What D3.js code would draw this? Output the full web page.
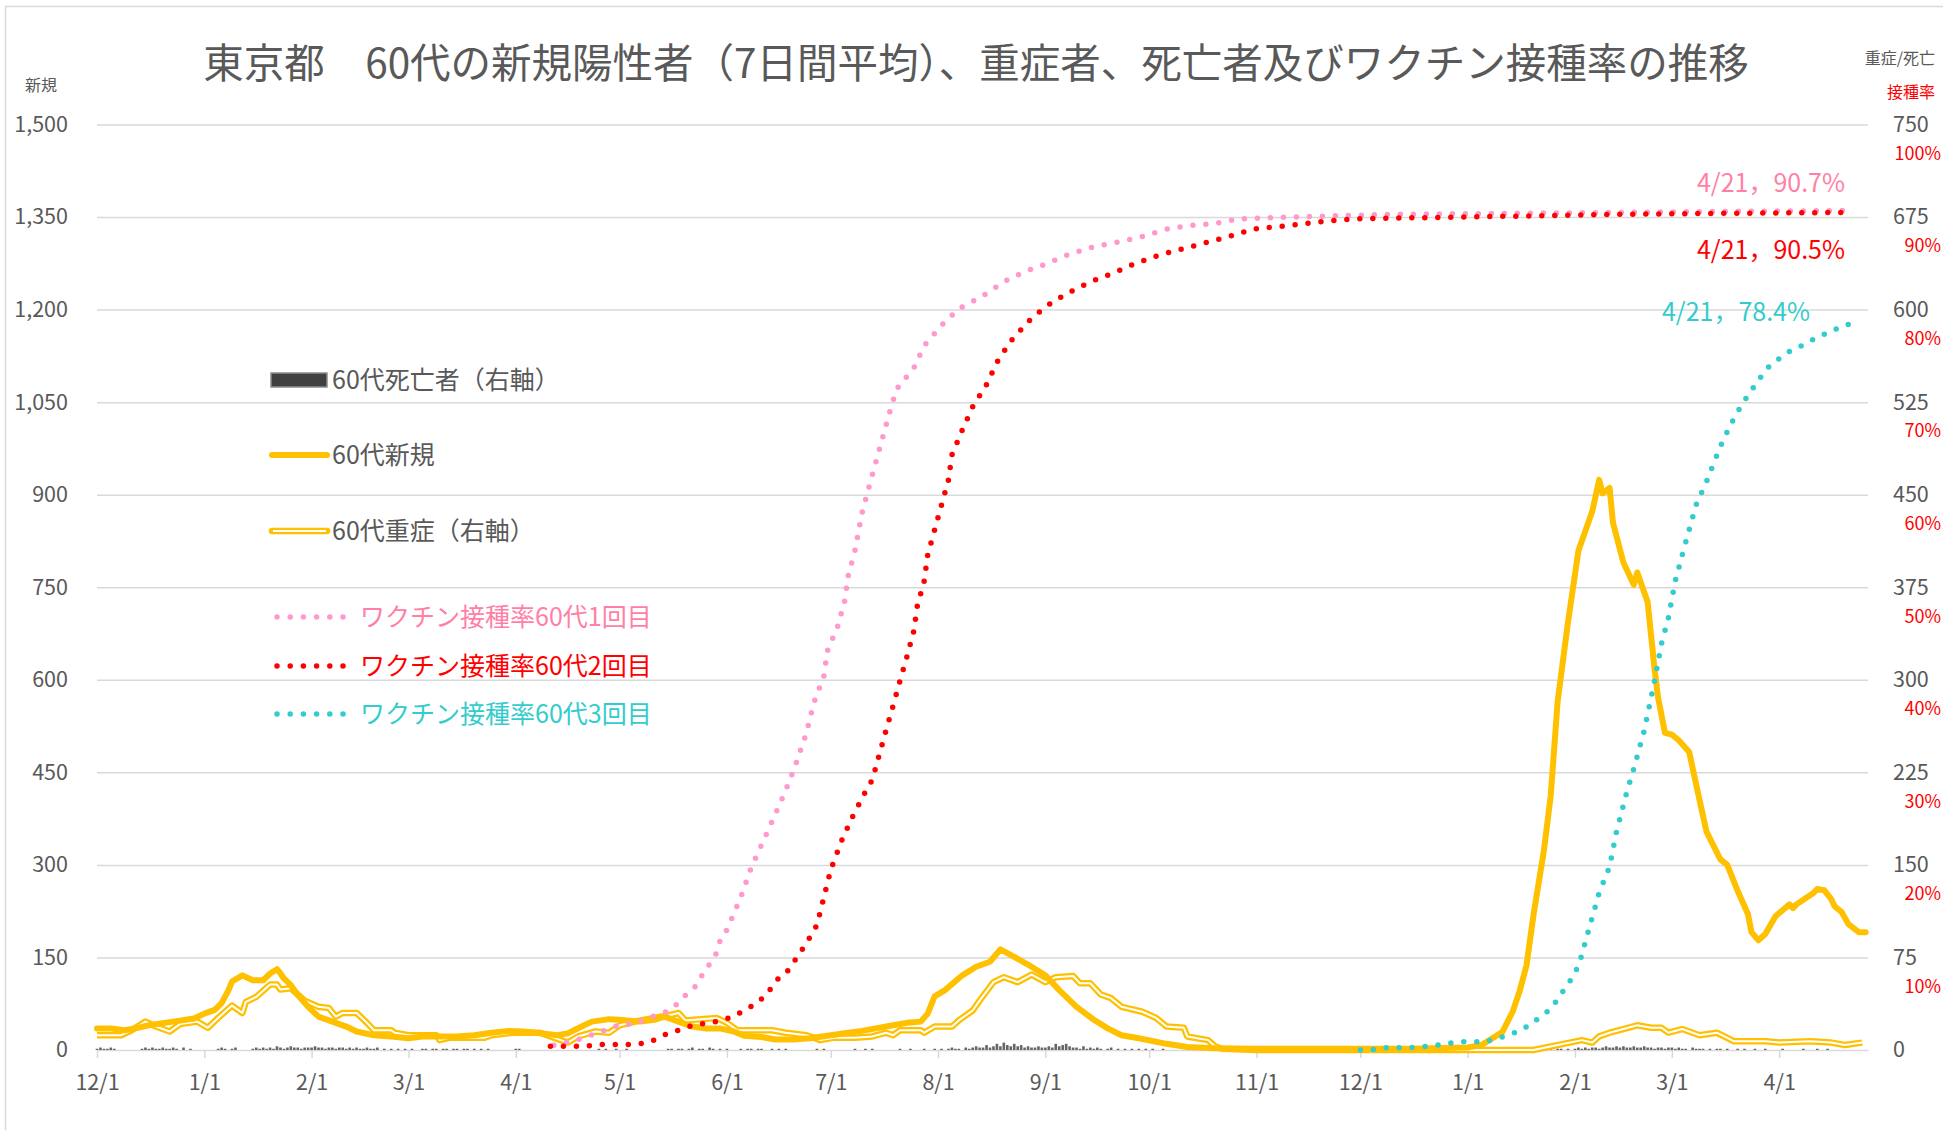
<!DOCTYPE html>
<html lang="ja">
<head>
<meta charset="utf-8">
<title>東京都 60代の新規陽性者・重症者・死亡者・ワクチン接種率</title>
<script src="https://cdn.jsdelivr.net/npm/d3@7"></script>
<style>
  body { margin: 0; background: #fff; }
  svg { display: block; font-family: "Noto Sans CJK JP", "Noto Sans", sans-serif; }
</style>
</head>
<body>
<svg id="chart" width="1943" height="1130"></svg>
<script>
// 60代新規（7日間平均, 左軸）
const newCases = [
  ["2020-12-01",35],["2020-12-05",35],["2020-12-09",32],["2020-12-12",35],["2020-12-16",40],["2020-12-23",46],
  ["2020-12-29",51],["2021-01-01",59],["2021-01-04",65],["2021-01-06",76],["2021-01-08",97],["2021-01-09",111],
  ["2021-01-12",121],["2021-01-15",113],["2021-01-18",113],["2021-01-20",124],["2021-01-22",131],["2021-01-23",124],
  ["2021-01-24",116],["2021-01-26",105],["2021-01-28",89],["2021-01-31",70],["2021-02-03",54],["2021-02-07",46],
  ["2021-02-11",38],["2021-02-14",30],["2021-02-19",24],["2021-02-24",22],["2021-03-01",19],["2021-03-05",22],
  ["2021-03-10",22],["2021-03-15",22],["2021-03-20",24],["2021-03-25",28],["2021-03-30",31],["2021-04-03",30],
  ["2021-04-08",27],["2021-04-13",24],["2021-04-16",27],["2021-04-20",38],["2021-04-23",46],["2021-04-28",50],
  ["2021-05-01",49],["2021-05-07",46],["2021-05-11",49],["2021-05-14",54],["2021-05-18",46],["2021-05-22",38],
  ["2021-05-26",35],["2021-05-30",35],["2021-06-03",30],["2021-06-06",23],["2021-06-11",21],["2021-06-15",17],
  ["2021-06-20",17],["2021-06-25",19],["2021-06-30",23],["2021-07-05",27],["2021-07-10",31],["2021-07-14",35],
  ["2021-07-19",40],["2021-07-23",44],["2021-07-27",46],["2021-07-29",59],["2021-07-31",87],["2021-08-03",97],
  ["2021-08-08",121],["2021-08-12",135],["2021-08-16",143],["2021-08-19",163],["2021-08-23",151],["2021-08-28",135],
  ["2021-09-01",121],["2021-09-05",97],["2021-09-10",70],["2021-09-15",49],["2021-09-19",35],["2021-09-23",24],
  ["2021-09-28",19],["2021-10-06",10],["2021-10-12",5],["2021-10-20",3],["2021-11-01",2],["2021-11-15",2],
  ["2021-12-01",2],["2021-12-15",2],["2022-01-01",4],["2022-01-05",8],["2022-01-11",29],["2022-01-14",62],
  ["2022-01-16",95],["2022-01-18",137],["2022-01-20",218],["2022-01-23",322],["2022-01-25",412],["2022-01-27",565],
  ["2022-01-30",694],["2022-02-02",809],["2022-02-06",873],["2022-02-08",924],["2022-02-09",902],["2022-02-11",911],
  ["2022-02-12",854],["2022-02-15",790],["2022-02-18",754],["2022-02-19",774],["2022-02-22",726],["2022-02-24",617],
  ["2022-02-25",572],["2022-02-27",514],["2022-03-01",511],["2022-03-03",502],["2022-03-06",483],["2022-03-09",405],
  ["2022-03-11",354],["2022-03-15",309],["2022-03-17",300],["2022-03-20",258],["2022-03-23",220],["2022-03-24",191],
  ["2022-03-26",178],["2022-03-28",188],["2022-03-31",217],["2022-04-04",236],["2022-04-05",230],["2022-04-06",236],
  ["2022-04-11",255],["2022-04-12",261],["2022-04-14",259],["2022-04-16",245],["2022-04-17",233],["2022-04-19",224],
  ["2022-04-21",204],["2022-04-24",191],["2022-04-26",191]
];

// 60代重症（右軸）
const severe = [
  ["2020-12-01",12],["2020-12-08",12],["2020-12-11",16],["2020-12-15",23],["2020-12-18",19],["2020-12-22",15],
  ["2020-12-25",21],["2020-12-30",23],["2021-01-02",18],["2021-01-05",26],["2021-01-09",36],["2021-01-12",30],
  ["2021-01-13",39],["2021-01-16",43],["2021-01-20",53],["2021-01-22",53],["2021-01-23",49],["2021-01-26",50],
  ["2021-01-30",40],["2021-02-03",35],["2021-02-06",34],["2021-02-08",27],["2021-02-10",30],["2021-02-14",30],
  ["2021-02-17",22],["2021-02-19",16],["2021-02-24",16],["2021-02-25",14],["2021-03-01",12],["2021-03-09",12],
  ["2021-03-10",8],["2021-03-13",10],["2021-03-23",10],["2021-03-25",12],["2021-03-31",14],["2021-04-08",14],
  ["2021-04-13",9],["2021-04-16",6],["2021-04-19",11],["2021-04-24",15],["2021-04-28",14],["2021-05-01",20],
  ["2021-05-07",24],["2021-05-15",28],["2021-05-18",30],["2021-05-20",24],["2021-05-29",26],["2021-06-01",22],
  ["2021-06-04",16],["2021-06-14",16],["2021-06-18",14],["2021-06-24",12],["2021-06-28",8],["2021-07-02",10],
  ["2021-07-08",10],["2021-07-13",11],["2021-07-17",14],["2021-07-19",12],["2021-07-21",16],["2021-07-27",16],
  ["2021-07-28",14],["2021-07-31",19],["2021-08-05",19],["2021-08-07",24],["2021-08-11",32],["2021-08-13",40],
  ["2021-08-17",55],["2021-08-20",59],["2021-08-24",55],["2021-08-28",61],["2021-09-01",55],["2021-09-04",59],
  ["2021-09-09",60],["2021-09-11",54],["2021-09-14",54],["2021-09-17",45],["2021-09-20",42],["2021-09-23",35],
  ["2021-09-29",31],["2021-10-03",26],["2021-10-06",19],["2021-10-11",18],["2021-10-12",11],["2021-10-18",8],
  ["2021-10-20",3],["2021-10-22",1],["2021-11-01",0],["2022-01-20",0],["2022-01-27",4],["2022-02-03",8],
  ["2022-02-06",6],["2022-02-08",11],["2022-02-11",14],["2022-02-15",17],["2022-02-19",20],["2022-02-23",18],
  ["2022-02-26",18],["2022-02-28",14],["2022-03-04",17],["2022-03-09",12],["2022-03-14",14],["2022-03-19",7],
  ["2022-03-28",7],["2022-04-01",6],["2022-04-10",7],["2022-04-16",6],["2022-04-20",4],["2022-04-25",6]
];

// 60代死亡者（右軸）
const deaths = [
  ["2020-12-01",1],["2020-12-02",2],["2020-12-03",1],["2020-12-04",1],["2020-12-05",2],["2020-12-06",1],
  ["2020-12-14",1],["2020-12-15",2],["2020-12-16",1],["2020-12-17",2],["2020-12-18",1],["2020-12-19",1],
  ["2020-12-20",2],["2020-12-21",1],["2020-12-22",1],["2020-12-23",2],["2020-12-24",1],["2020-12-26",2],
  ["2020-12-28",1],["2021-01-05",1],["2021-01-06",2],["2021-01-07",1],["2021-01-09",1],["2021-01-10",2],
  ["2021-01-15",1],["2021-01-16",2],["2021-01-17",1],["2021-01-18",2],["2021-01-19",1],["2021-01-20",2],
  ["2021-01-21",1],["2021-01-22",3],["2021-01-23",2],["2021-01-24",1],["2021-01-25",2],["2021-01-26",3],
  ["2021-01-27",2],["2021-01-28",2],["2021-01-29",1],["2021-01-30",2],["2021-01-31",2],["2021-02-01",2],
  ["2021-02-02",3],["2021-02-03",2],["2021-02-04",2],["2021-02-05",1],["2021-02-06",2],["2021-02-07",2],
  ["2021-02-08",1],["2021-02-09",2],["2021-02-10",2],["2021-02-11",1],["2021-02-12",2],["2021-02-13",1],
  ["2021-02-14",2],["2021-02-15",1],["2021-02-16",1],["2021-02-17",2],["2021-02-18",1],["2021-02-19",1],
  ["2021-02-20",2],["2021-02-22",1],["2021-02-24",1],["2021-02-26",1],["2021-02-28",1],["2021-03-02",1],
  ["2021-03-05",1],["2021-03-06",1],["2021-03-08",1],["2021-03-09",1],["2021-03-11",1],["2021-03-12",1],
  ["2021-03-14",1],["2021-03-15",1],["2021-03-17",1],["2021-03-18",1],["2021-03-20",1],["2021-03-22",1],
  ["2021-03-24",1],["2021-04-01",1],["2021-04-02",1],["2021-04-25",1],["2021-04-27",1],["2021-04-30",1],
  ["2021-05-03",1],["2021-05-15",1],["2021-05-16",1],["2021-05-18",1],["2021-05-19",1],["2021-05-21",1],
  ["2021-05-22",2],["2021-05-24",1],["2021-05-25",1],["2021-05-27",2],["2021-05-28",1],["2021-05-30",1],
  ["2021-06-01",1],["2021-06-05",1],["2021-06-07",1],["2021-06-08",1],["2021-06-10",1],["2021-06-11",1],
  ["2021-06-14",1],["2021-06-16",1],["2021-06-18",1],["2021-06-27",1],["2021-06-29",1],["2021-07-08",1],
  ["2021-07-11",1],["2021-07-13",1],["2021-07-21",1],["2021-07-24",1],["2021-07-28",1],["2021-07-31",1],
  ["2021-08-02",1],["2021-08-04",1],["2021-08-05",2],["2021-08-06",1],["2021-08-07",1],["2021-08-09",2],
  ["2021-08-10",1],["2021-08-11",2],["2021-08-12",3],["2021-08-13",2],["2021-08-14",2],["2021-08-15",4],
  ["2021-08-16",2],["2021-08-17",3],["2021-08-18",5],["2021-08-19",3],["2021-08-20",6],["2021-08-21",4],
  ["2021-08-22",3],["2021-08-23",5],["2021-08-24",3],["2021-08-25",4],["2021-08-26",2],["2021-08-27",3],
  ["2021-08-28",2],["2021-08-29",2],["2021-08-30",3],["2021-08-31",2],["2021-09-01",2],["2021-09-02",3],
  ["2021-09-03",2],["2021-09-04",5],["2021-09-05",3],["2021-09-06",4],["2021-09-07",5],["2021-09-08",3],
  ["2021-09-09",2],["2021-09-10",2],["2021-09-11",1],["2021-09-12",3],["2021-09-13",1],["2021-09-14",2],
  ["2021-09-15",1],["2021-09-16",2],["2021-09-17",1],["2021-09-19",1],["2021-09-20",2],["2021-09-22",1],
  ["2021-09-24",1],["2021-09-26",1],["2021-09-28",1],["2021-09-30",1],["2021-10-02",1],["2021-10-05",1],
  ["2022-01-25",1],["2022-01-27",1],["2022-01-28",1],["2022-01-30",1],["2022-02-01",1],["2022-02-02",2],
  ["2022-02-03",1],["2022-02-04",2],["2022-02-05",1],["2022-02-06",2],["2022-02-07",2],["2022-02-08",1],
  ["2022-02-09",2],["2022-02-10",3],["2022-02-11",2],["2022-02-12",2],["2022-02-13",3],["2022-02-14",2],
  ["2022-02-15",3],["2022-02-16",2],["2022-02-17",2],["2022-02-18",3],["2022-02-19",2],["2022-02-20",2],
  ["2022-02-21",3],["2022-02-22",2],["2022-02-23",2],["2022-02-24",1],["2022-02-25",2],["2022-02-26",2],
  ["2022-02-27",1],["2022-02-28",2],["2022-03-01",2],["2022-03-02",1],["2022-03-03",2],["2022-03-04",1],
  ["2022-03-05",1],["2022-03-07",2],["2022-03-08",1],["2022-03-09",1],["2022-03-10",1],["2022-03-12",1],
  ["2022-03-14",1],["2022-03-15",1],["2022-03-17",1],["2022-03-20",1],["2022-03-22",1],["2022-03-25",1],
  ["2022-03-28",1],["2022-04-02",1],["2022-04-08",1],["2022-04-12",1],["2022-04-15",1]
];

// ワクチン接種率（%）
const vacc1 = [
  ["2021-04-12",0.5],["2021-04-18",1.0],["2021-04-21",1.4],["2021-04-25",1.9],["2021-04-28",2.3],["2021-05-01",2.7],
  ["2021-05-04",2.8],["2021-05-08",3.2],["2021-05-11",3.7],["2021-05-15",4.2],["2021-05-18",5.1],["2021-05-20",5.9],
  ["2021-05-23",6.9],["2021-05-25",8.2],["2021-05-27",9.3],["2021-05-29",10.5],["2021-05-30",11.8],["2021-06-01",13.0],
  ["2021-06-05",16.5],["2021-06-08",19.7],["2021-06-12",23.0],["2021-06-17",27.2],["2021-06-19",29.0],["2021-06-21",31.0],
  ["2021-06-24",34.3],["2021-06-26",37.4],["2021-06-29",40.4],["2021-06-30",43.1],["2021-07-03",45.8],["2021-07-05",48.5],
  ["2021-07-06",51.2],["2021-07-08",54.0],["2021-07-10",58.0],["2021-07-12",60.8],["2021-07-14",63.5],["2021-07-16",66.2],
  ["2021-07-18",68.9],["2021-07-20",71.4],["2021-07-25",73.7],["2021-07-28",76.1],["2021-08-02",78.3],["2021-08-07",80.1],
  ["2021-08-14",81.5],["2021-08-20",83.0],["2021-08-26",84.1],["2021-09-01",84.9],["2021-09-08",86.0],["2021-09-15",86.8],
  ["2021-09-22",87.3],["2021-09-29",87.9],["2021-10-06",88.7],["2021-10-13",89.1],["2021-10-20",89.3],["2021-10-27",89.8],
  ["2021-11-11",90.0],["2021-12-11",90.3],["2022-01-15",90.4],["2022-02-15",90.5],["2022-03-15",90.6],["2022-04-21",90.7]
];
const vacc2 = [
  ["2021-04-11",0.4],["2021-04-21",0.4],["2021-04-25",0.6],["2021-05-06",0.6],["2021-05-10",0.9],["2021-05-13",1.5],
  ["2021-05-16",1.9],["2021-05-20",2.4],["2021-05-23",2.8],["2021-05-27",2.9],["2021-05-30",3.2],["2021-06-03",3.6],
  ["2021-06-06",4.3],["2021-06-09",4.9],["2021-06-12",5.8],["2021-06-14",6.8],["2021-06-16",7.8],["2021-06-19",8.7],
  ["2021-06-21",9.9],["2021-06-23",11.0],["2021-06-25",12.2],["2021-06-27",13.5],["2021-07-01",19.5],["2021-07-04",22.5],
  ["2021-07-07",25.0],["2021-07-11",27.9],["2021-07-13",29.2],["2021-07-15",31.9],["2021-07-17",34.6],["2021-07-19",37.2],
  ["2021-07-21",39.9],["2021-07-23",42.5],["2021-07-25",45.3],["2021-07-26",48.0],["2021-07-28",50.7],["2021-07-29",53.5],
  ["2021-07-31",56.2],["2021-08-02",58.9],["2021-08-04",61.6],["2021-08-05",64.3],["2021-08-08",67.0],["2021-08-11",69.5],
  ["2021-08-15",71.9],["2021-08-18",74.3],["2021-08-22",76.6],["2021-08-27",78.7],["2021-09-01",80.3],["2021-09-07",81.7],
  ["2021-09-14",83.0],["2021-09-21",84.0],["2021-09-27",85.0],["2021-10-04",85.9],["2021-10-11",86.6],["2021-10-18",87.3],
  ["2021-10-25",88.0],["2021-10-31",88.7],["2021-11-08",89.0],["2021-11-15",89.3],["2021-11-22",89.6],["2021-11-30",89.8],
  ["2021-12-14",89.9],["2022-01-15",90.1],["2022-02-15",90.3],["2022-03-15",90.4],["2022-04-21",90.5]
];
const vacc3 = [
  ["2021-12-01",0],["2021-12-04",0],["2021-12-08",0.25],["2021-12-15",0.25],["2021-12-19",0.36],["2021-12-23",0.5],
  ["2021-12-26",0.7],["2021-12-30",0.9],["2022-01-06",0.9],["2022-01-09",1.2],["2022-01-13",1.6],["2022-01-16",2.1],
  ["2022-01-19",2.7],["2022-01-22",3.6],["2022-01-25",4.4],["2022-01-27",5.5],["2022-01-29",6.6],["2022-01-31",7.7],
  ["2022-02-02",9.1],["2022-02-03",10.3],["2022-02-04",11.7],["2022-02-05",13.0],["2022-02-08",17.0],["2022-02-11",19.8],
  ["2022-02-13",23.6],["2022-02-16",27.9],["2022-02-18",30.4],["2022-02-21",34.5],["2022-02-24",39.9],["2022-02-26",43.9],
  ["2022-02-28",46.7],["2022-03-02",50.7],["2022-03-04",53.5],["2022-03-06",56.2],["2022-03-08",58.9],["2022-03-11",61.4],
  ["2022-03-15",65.2],["2022-03-18",67.6],["2022-03-21",69.6],["2022-03-24",71.3],["2022-03-26",72.3],["2022-03-28",73.5],
  ["2022-03-31",74.4],["2022-04-03",75.3],["2022-04-07",76.0],["2022-04-10",76.6],["2022-04-13",77.2],["2022-04-16",77.6],
  ["2022-04-19",78.2],["2022-04-21",78.4]
];

// 軸の目盛り
const leftTicks = [0, 150, 300, 450, 600, 750, 900, 1050, 1200, 1350, 1500];
const rightTicks = [0, 75, 150, 225, 300, 375, 450, 525, 600, 675, 750];
const pctTicks = [10, 20, 30, 40, 50, 60, 70, 80, 90, 100];
const monthTicks = ["2020-12-01","2021-01-01","2021-02-01","2021-03-01","2021-04-01","2021-05-01","2021-06-01",
  "2021-07-01","2021-08-01","2021-09-01","2021-10-01","2021-11-01","2021-12-01","2022-01-01","2022-02-01",
  "2022-03-01","2022-04-01"];
const endLabels = ["4/21，90.7%", "4/21，90.5%", "4/21，78.4%"];

const parseDay = d3.timeParse('%Y-%m-%d');
const grey = '#595959', gold = '#FFC000', pink = '#FF99CC', pinkText = '#FF7FA6', red = '#FF0000', teal = '#33CCCC';

const svg = d3.select('#chart');
const pLeft = 97, pRight = 1868, pTop = 124.5, pBottom = 1050;

const x = d3.scaleTime()
  .domain([parseDay('2020-12-01'), new Date(2022, 3, 26, 16)])
  .range([pLeft, pRight]);
const yL = d3.scaleLinear().domain([0, 1500]).range([pBottom, pTop]);
const yR = d3.scaleLinear().domain([0, 750]).range([pBottom, pTop]);
const yP = d3.scaleLinear().domain([0, 100]).range([pBottom, pTop]);

// 外枠
svg.append('rect')
  .attr('x', 5.5).attr('y', 6.5).attr('width', 1950).attr('height', 1130)
  .attr('fill', '#fff').attr('stroke', '#d9d9d9').attr('stroke-width', 1.5);

// タイトル
svg.append('text')
  .attr('x', 976).attr('y', 64).attr('dy', '0.35em')
  .attr('text-anchor', 'middle')
  .attr('font-size', 40.5).attr('fill', grey)
  .text('東京都　60代の新規陽性者（7日間平均）、重症者、死亡者及びワクチン接種率の推移');

// 目盛り線
const grid = svg.append('g')
  .attr('transform', `translate(${pLeft},0)`)
  .call(d3.axisRight(yL).tickValues(leftTicks.slice(1)).tickSize(pRight - pLeft).tickFormat(''));
grid.select('.domain').remove();
grid.selectAll('line').attr('stroke', '#d9d9d9').attr('stroke-width', 1.5);

// 左軸
const gLeft = svg.append('g')
  .attr('transform', 'translate(68,0)')
  .call(d3.axisLeft(yL).tickValues(leftTicks).tickSize(0).tickPadding(0).tickFormat(d3.format(',')));
gLeft.select('.domain').remove();
gLeft.attr('font-family', null);
gLeft.selectAll('text').attr('font-size', 21.5).attr('fill', grey);

// 右軸
const gRight = svg.append('g')
  .attr('transform', 'translate(1893,0)')
  .call(d3.axisRight(yR).tickValues(rightTicks).tickSize(0).tickPadding(0));
gRight.select('.domain').remove();
gRight.attr('font-family', null);
gRight.selectAll('text').attr('font-size', 21.5).attr('fill', grey);

svg.append('g').selectAll('text')
  .data(pctTicks)
  .join('text')
  .attr('x', 1941).attr('y', d => yP(d) + 29).attr('dy', '0.35em')
  .attr('text-anchor', 'end').attr('font-size', 18).attr('fill', red)
  .text(d => d + '%');

svg.append('text').attr('x', 41).attr('y', 85).attr('dy', '0.35em').attr('text-anchor', 'middle')
  .attr('font-size', 16).attr('fill', grey).text('新規');
svg.append('text').attr('x', 1935).attr('y', 58).attr('dy', '0.35em').attr('text-anchor', 'end')
  .attr('font-size', 16).attr('fill', grey).text('重症/死亡');
svg.append('text').attr('x', 1935).attr('y', 92).attr('dy', '0.35em').attr('text-anchor', 'end')
  .attr('font-size', 16).attr('fill', red).text('接種率');

// 横軸
const gX = svg.append('g')
  .attr('transform', `translate(0,${pBottom})`)
  .call(d3.axisBottom(x).tickValues(monthTicks.map(parseDay))
    .tickFormat(d3.timeFormat('%-m/%-d')).tickSize(8).tickSizeOuter(0).tickPadding(17));
gX.attr('font-family', null);
gX.select('.domain').attr('stroke', '#d9d9d9').attr('stroke-width', 1.5);
gX.selectAll('line').attr('stroke', '#d9d9d9').attr('stroke-width', 1.5);
gX.selectAll('text').attr('font-size', 21.5).attr('fill', grey);

// 死亡者（棒）
svg.append('g').selectAll('rect')
  .data(deaths)
  .join('rect')
  .attr('x', d => x(parseDay(d[0])) - 1.3)
  .attr('width', 2.6)
  .attr('y', d => yR(d[1]))
  .attr('height', d => pBottom - yR(d[1]))
  .attr('fill', '#666');

const lineOf = scale => d3.line()
  .x(d => x(parseDay(d[0])))
  .y(d => scale(d[1]));

// 重症（二重線）
const severePath = lineOf(yR)(severe);
svg.append('path').attr('d', severePath).attr('fill', 'none')
  .attr('stroke', gold).attr('stroke-width', 6.5).attr('stroke-linejoin', 'round');
svg.append('path').attr('d', severePath).attr('fill', 'none')
  .attr('stroke', '#fff').attr('stroke-width', 2).attr('stroke-linejoin', 'round');

// 新規
svg.append('path').attr('d', lineOf(yL)(newCases)).attr('fill', 'none')
  .attr('stroke', gold).attr('stroke-width', 6).attr('stroke-linejoin', 'round').attr('stroke-linecap', 'round');

// 接種率（点線）
[[vacc1, pink], [vacc2, red], [vacc3, teal]].forEach(([data, color]) => {
  svg.append('path').attr('d', lineOf(yP)(data)).attr('fill', 'none')
    .attr('stroke', color).attr('stroke-width', 5.5)
    .attr('stroke-linecap', 'round').attr('stroke-dasharray', '0 13');
});

// 最終値の注記
svg.append('g').selectAll('text')
  .data([[endLabels[0], pinkText, 1845, 183], [endLabels[1], red, 1845, 250], [endLabels[2], teal, 1810, 312]])
  .join('text')
  .attr('x', d => d[2]).attr('y', d => d[3]).attr('dy', '0.35em')
  .attr('text-anchor', 'end').attr('font-size', 25).attr('fill', d => d[1])
  .text(d => d[0]);

// 凡例
const legend = svg.append('g');
legend.append('rect').attr('x', 271).attr('y', 373).attr('width', 56).attr('height', 14)
  .attr('fill', '#404040').attr('stroke', '#8c8c8c').attr('stroke-width', 1.5);
legend.append('line').attr('x1', 272).attr('x2', 327).attr('y1', 455).attr('y2', 455)
  .attr('stroke', gold).attr('stroke-width', 6).attr('stroke-linecap', 'round');
legend.append('line').attr('x1', 272).attr('x2', 327).attr('y1', 531).attr('y2', 531)
  .attr('stroke', gold).attr('stroke-width', 6.5).attr('stroke-linecap', 'round');
legend.append('line').attr('x1', 273).attr('x2', 326).attr('y1', 531).attr('y2', 531)
  .attr('stroke', '#fff').attr('stroke-width', 2);

[['60代死亡者（右軸）', 380], ['60代新規', 455], ['60代重症（右軸）', 531]].forEach(([label, y]) => {
  legend.append('text').attr('x', 332).attr('y', y).attr('dy', '0.35em')
    .attr('font-size', 25).attr('fill', grey).text(label);
});

[['ワクチン接種率60代1回目', 617, pink, pinkText], ['ワクチン接種率60代2回目', 666, red, red],
 ['ワクチン接種率60代3回目', 714, teal, teal]].forEach(([label, y, dot, txt]) => {
  legend.append('line').attr('x1', 277).attr('x2', 343.5).attr('y1', y).attr('y2', y)
    .attr('stroke', dot).attr('stroke-width', 5.5)
    .attr('stroke-linecap', 'round').attr('stroke-dasharray', '0 13.2');
  legend.append('text').attr('x', 360).attr('y', y).attr('dy', '0.35em')
    .attr('font-size', 25).attr('fill', txt).text(label);
});
</script>
</body>
</html>
